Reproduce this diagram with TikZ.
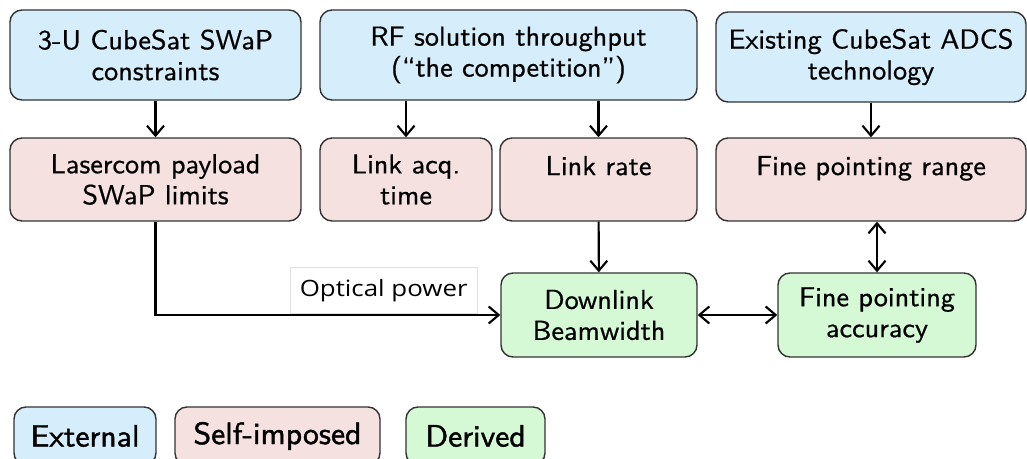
\documentclass[tikz,border=0pt]{standalone}
\usepackage{fontspec}
\newfontfamily\boxfont{lmsans10-regular.otf}[FakeStretch=1.03,FakeBold=0.6,Ligatures=TeX]
\newfontfamily\keyfont{lmsans10-regular.otf}[FakeStretch=1.03,FakeBold=1.4]
\newfontfamily\labelfont{Open Sans}[FakeStretch=1.15]
\usetikzlibrary{positioning,arrows.meta,calc}
\definecolor{extblue}{HTML}{D6EEFB}
\definecolor{selfpink}{HTML}{F5E1E0}
\definecolor{derivgreen}{HTML}{D5F8D5}
\definecolor{boxline}{HTML}{333333}
\tikzset{
base/.style = {rectangle, rounded corners=0.24cm, draw=boxline, line width=0.8pt,
                         align=center, text centered,
                         font=\boxfont\fontsize{15.6}{17.6}\selectfont},
extnode/.style={base, fill=extblue, minimum height=1.8cm},
selfnode/.style={base, fill=selfpink, minimum height=1.66cm},
derivnode/.style={base, fill=derivgreen, minimum height=1.68cm},
keynode/.style={base, minimum height=1.16cm, font=\keyfont\fontsize{17.5}{19}\selectfont},
optlabel/.style={rectangle, draw=black!12, fill=white, line width=0.4pt,
                 minimum width=3.74cm, minimum height=0.92cm,
                 font=\labelfont\fontsize{12.8}{15}\selectfont},
>={Straight Barb[length=2mm,width=3.4mm]},
}
\begin{document}
\begin{tikzpicture}[line width=1.2pt]
\useasboundingbox (0,0) rectangle (20.54,-9.18);
\clip (0,0) rectangle (20.54,-9.18);

%External nodes
\node[extnode, minimum width=5.82cm] (ext1) at(3.11,-1.1) {3-U CubeSat SWaP\\constraints};
\node[extnode, minimum width=7.54cm] (ext2) at(10.17,-1.1) {RF solution throughput\\(``the competition'')};
\node[extnode, minimum width=6.2cm] (ext3) at(17.42,-1.14) {Existing CubeSat ADCS\\technology};

%Self-imposed nodes
\node[selfnode, minimum width=5.82cm] (self1) at(3.11,-3.59) {Lasercom payload\\SWaP limits};
\node[selfnode, minimum width=3.44cm] (self2) at(8.12,-3.59) {Link acq.\\time};
\node[selfnode, minimum width=3.94cm] (self3) at(11.97,-3.59) {Link rate\\[-7pt]\strut};
\node[selfnode, minimum width=6.2cm] (self4) at(17.42,-3.59) {Fine pointing range\\[-7pt]\strut};

%Derived nodes
\node[derivnode, minimum width=3.92cm] (der1) at(11.98,-6.3) {Downlink\\Beamwidth};
\node[derivnode, minimum width=3.96cm] (der2) at(17.54,-6.3) {Fine pointing\\accuracy};

% legend
\node[keynode, fill=extblue, minimum width=2.84cm] (keyext) at(1.7,-8.72) {External};
\node[keynode, fill=selfpink, minimum width=4.1cm] (keyself) at(5.55,-8.72) {Self-imposed};
\node[keynode, fill=derivgreen, minimum width=2.78cm] (keyder) at(9.51,-8.72) {Derived};

\draw[->] (ext1) -- (self1);
\draw[->] (ext2.south -| self2.north) -- (self2);
\draw[->] (ext2.south -| self3.north) -- (self3);
\draw[->] (ext3) -- (self4);
\draw[->] (self3) -- (der1);
\draw[<->] (self4.south -| der2.north) -- (der2);
\draw[<->] (der1) -- (der2);
\draw[->] (self1.south) |- node[optlabel, pos=0.967, anchor=south east, yshift=0.6pt] (optpow) {Optical power} (der1.west);

\end{tikzpicture}
\end{document}
